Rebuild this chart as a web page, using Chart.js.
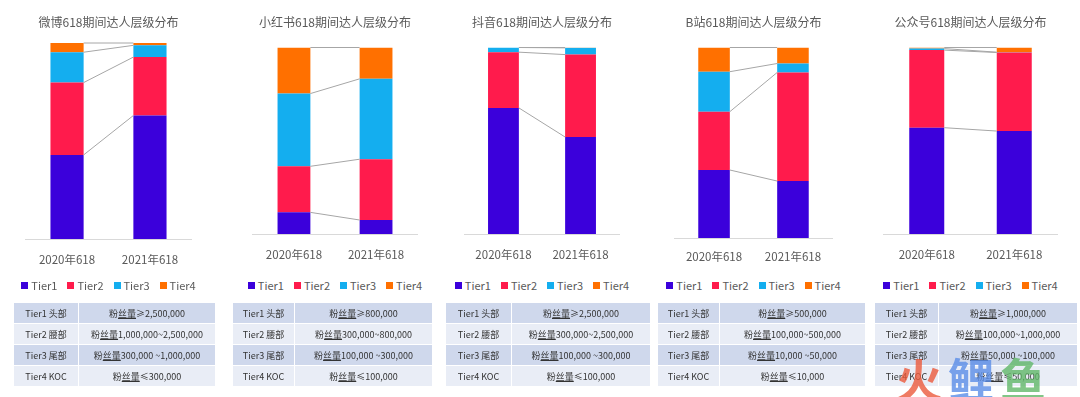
<!DOCTYPE html>
<html>
<head>
<meta charset="utf-8">
<script src="https://cdn.jsdelivr.net/npm/chart.js@4"></script>
<style>
    body { margin: 0; width: 1080px; height: 397px; background: #fff; position: relative; overflow: hidden;
           font-family: "Noto Sans CJK SC", "Noto Sans", sans-serif; }
    canvas { position: absolute; top: 0; }
    .legend { position: absolute; top: 278px; height: 14px; display: flex; justify-content: center;
              align-items: center; font-size: 11px; color: #595959; }
    .legend span.box { display: inline-block; width: 7px; height: 7px; margin-right: 3px; }
    .legend span.item { display: flex; align-items: center; margin: 0 5px; }
    table { position: absolute; top: 302px; border-collapse: collapse; font-size: 9px; color: #333; }
    td { height: 20px; padding: 0; text-align: center; border: 1px solid #fff; white-space: nowrap; }
    tr:nth-child(odd) td { background: #cfd8ec; }
    tr:nth-child(even) td { background: #e9edf6; }
    td u { text-decoration-color: #333; }
    .logo { position: absolute; top: 354px; left: 896px; font-size: 46px; font-weight: bold; line-height: 1;
            opacity: 0.8; letter-spacing: 6px; white-space: nowrap; }
</style>
</head>
<body>
<div id="root"></div>
<div class="logo"><span style="color:#ec5a3c">火</span><span style="color:#5b8ee8">鲤</span><span style="color:#62b86a">鱼</span></div>
<script>
// Sample data
const categories = ['2020年618', '2021年618'];
const tiers = ['Tier1', 'Tier2', 'Tier3', 'Tier4'];
const tierColors = ['#3b00db', '#ff1b4c', '#14aeef', '#ff7000'];
const titles = ['微博618期间达人层级分布', '小红书618期间达人层级分布', '抖音618期间达人层级分布',
    'B站618期间达人层级分布', '公众号618期间达人层级分布'];

// share of creators per tier (%), [2020, 2021]
const weibo = [[42.9, 63.0], [36.9, 29.8], [15.5, 6.0], [4.7, 1.2]];
const xiaohongshu = [[11.6, 7.5], [24.7, 32.6], [39.0, 43.1], [24.7, 16.8]];
const douyin = [[67.6, 52.0], [29.9, 44.2], [2.5, 3.6], [0, 0.2]];
const bilibili = [[35.7, 29.9], [30.6, 57.0], [21.0, 4.7], [12.7, 8.4]];
const gongzhonghao = [[57.0, 55.2], [41.6, 42.1], [0.8, 0.2], [0.6, 2.5]];

// tier definitions
const tierNames = ['Tier1 头部', 'Tier2 腰部', 'Tier3 尾部', 'Tier4 KOC'];
const weiboFans = ['≥2,500,000', '1,000,000~2,500,000', '300,000 ~1,000,000', '≤300,000'];
const xiaohongshuFans = ['≥800,000', '300,000~800,000', '100,000 ~300,000', '≤100,000'];
const douyinFans = ['≥2,500,000', '300,000~2,500,000', '100,000 ~300,000', '≤100,000'];
const bilibiliFans = ['≥500,000', '100,000~500,000', '10,000 ~50,000', '≤10,000'];
const gongzhonghaoFans = ['≥1,000,000', '100,000~1,000,000', '50,000 ~100,000', '≤50,000'];

// layout of each panel (chart area x/width, top, baseline, label centre, table columns)
const panels = [
    { data: weibo, fans: weiboFans, x: 25, w: 167, top: 43, bottom: 239, label: 260, table: [13, 64, 136] },
    { data: xiaohongshu, fans: xiaohongshuFans, x: 252, w: 166, top: 47.5, bottom: 234, label: 255, table: [232, 61, 137] },
    { data: douyin, fans: douyinFans, x: 462, w: 160, top: 47.5, bottom: 234, label: 255, table: [445, 65, 138] },
    { data: bilibili, fans: bilibiliFans, x: 674, w: 159, top: 47.5, bottom: 238, label: 257, table: [657, 61, 145] },
    { data: gongzhonghao, fans: gongzhonghaoFans, x: 883, w: 175, top: 47.5, bottom: 234, label: 255, table: [874, 63, 138] }
];

// grey lines joining the segment tops of the two bars
const seriesLines = {
    id: 'seriesLines',
    afterDatasetsDraw(chart) {
        const ctx = chart.ctx;
        ctx.save();
        ctx.strokeStyle = '#a6a6a6';
        ctx.lineWidth = 1;
        chart.data.datasets.forEach((ds, i) => {
            const bars = chart.getDatasetMeta(i).data;
            const a = bars[0], b = bars[1];
            ctx.beginPath();
            ctx.moveTo(a.x + a.width / 2, a.y);
            ctx.lineTo(b.x - b.width / 2, b.y);
            ctx.stroke();
        });
        ctx.restore();
    }
};

const root = document.getElementById('root');
const font = '"Noto Sans CJK SC", sans-serif';

panels.forEach((p, k) => {
    const titleTop = 15, titleLine = 14.4, tickLine = 13.8;
    const tickPad = p.label - p.bottom - tickLine / 2;
    const canvas = document.createElement('canvas');
    canvas.width = p.w;
    canvas.height = Math.round(p.bottom + tickLine + tickPad * 2);
    canvas.style.left = p.x + 'px';
    root.appendChild(canvas);

    new Chart(canvas.getContext('2d'), {
        type: 'bar',
        data: {
            labels: categories,
            datasets: tiers.map((t, i) => ({
                label: t,
                data: p.data[i],
                backgroundColor: tierColors[i],
                borderWidth: 0
            }))
        },
        options: {
            responsive: false,
            animation: false,
            layout: { padding: 0 },
            datasets: { bar: { barPercentage: 0.4, categoryPercentage: 1 } },
            scales: {
                x: {
                    stacked: true,
                    grid: { display: false, drawTicks: false },
                    border: { color: '#d9d9d9' },
                    ticks: { color: '#595959', padding: tickPad, font: { family: font, size: 11.5 } }
                },
                y: { stacked: true, display: false, min: 0, max: 100 }
            },
            plugins: {
                legend: { display: false },
                tooltip: { enabled: false },
                title: {
                    display: true,
                    text: titles[k],
                    color: '#595959',
                    font: { family: font, size: 12, weight: 'normal' },
                    padding: { top: titleTop, bottom: p.top - titleTop - titleLine }
                }
            }
        },
        plugins: [seriesLines]
    });

    // legend
    const legend = document.createElement('div');
    legend.className = 'legend';
    legend.style.left = p.x + 'px';
    legend.style.width = p.w + 'px';
    legend.innerHTML = tiers.map((t, i) =>
        `<span class="item"><span class="box" style="background:${tierColors[i]}"></span>${t}</span>`).join('');
    root.appendChild(legend);

    // tier table
    const table = document.createElement('table');
    table.style.left = p.table[0] + 'px';
    table.innerHTML = tierNames.map((n, i) => `
        <tr><td style="width:${p.table[1]}px">${n}</td>
        <td style="width:${p.table[2]}px">粉<u>丝量</u>${p.fans[i]}</td></tr>`).join('');
    root.appendChild(table);
});
</script>
</body>
</html>
